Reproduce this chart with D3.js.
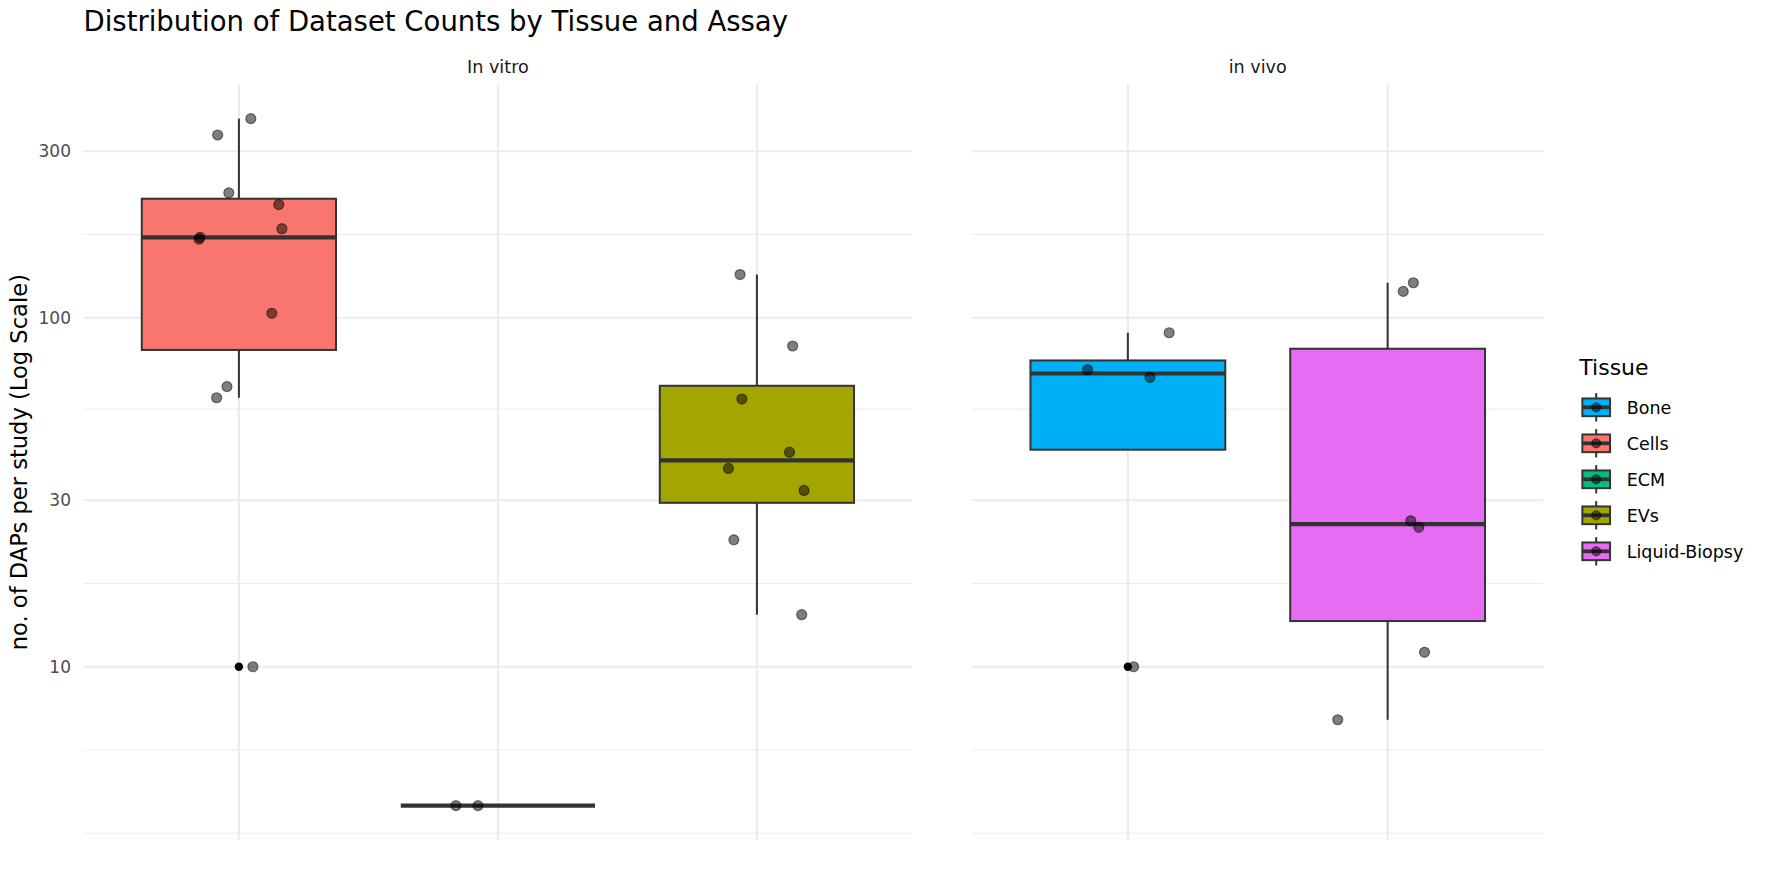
<!DOCTYPE html>
<html>
<head>
<meta charset="utf-8">
<script src="https://cdn.jsdelivr.net/npm/d3@7"></script>
<style>
  body { margin: 0; background: #fff; }
  svg { display: block; }
  text { font-family: "DejaVu Sans", sans-serif; }
</style>
</head>
<body>
<svg id="chart" width="1771" height="885"></svg>
<script>
// ---------------- data ----------------
const tissues = ["Bone", "Cells", "ECM", "EVs", "Liquid-Biopsy"];
const assays = ["In vitro", "in vivo"];
const assayTissues = [["Cells", "ECM", "EVs"], ["Bone", "Liquid-Biopsy"]];

// DAPs per study, per tissue
const boneCounts  = [90.6, 71, 67.5, 10];
const cellsCounts = [372, 334, 228, 211, 180, 170, 168, 103, 63.5, 59, 10];
const ecmCounts   = [4, 4];
const evsCounts   = [133, 83, 58.5, 41.2, 37, 32, 23.1, 14.1];
const lbCounts    = [126, 119, 26.2, 25.1, 11.0, 7.05];

// horizontal jitter of each point (fraction of category step)
const boneJitter  = [0.159, -0.155, 0.085, 0.022];
const cellsJitter = [0.046, -0.082, -0.039, 0.154, 0.166, -0.150, -0.154, 0.127, -0.046, -0.086, 0.054];
const ecmJitter   = [-0.162, -0.077];
const evsJitter   = [-0.065, 0.138, -0.058, 0.126, -0.110, 0.182, -0.089, 0.173];
const lbJitter    = [0.099, 0.060, 0.089, 0.120, 0.142, -0.192];

const yTicks = [10, 30, 100, 300];
const yTickLabels = ["10", "30", "100", "300"];

const tissueColors = ["#00B0F6", "#F8766D", "#00BF7D", "#A3A500", "#E76BF3"];

// ---------------- assemble ----------------
const countsBy = { "Bone": boneCounts, "Cells": cellsCounts, "ECM": ecmCounts, "EVs": evsCounts, "Liquid-Biopsy": lbCounts };
const jitterBy = { "Bone": boneJitter, "Cells": cellsJitter, "ECM": ecmJitter, "EVs": evsJitter, "Liquid-Biopsy": lbJitter };
const color = d3.scaleOrdinal().domain(tissues).range(tissueColors);

// ---------------- layout ----------------
const W = 1771, H = 885;
const panelTop = 84.3, panelBottom = 840;
const panelX = [[83.5, 912.3], [972, 1543.5]];
const gridCol = "#EBEBEB";
const boxLine = "#333333";

const svg = d3.select("#chart");
svg.append("rect").attr("width", W).attr("height", H).attr("fill", "#fff");

// y scale (log10, 5% expansion in log space like ggplot)
const allVals = tissues.flatMap(t => countsBy[t]);
const lext = d3.extent(allVals, v => Math.log10(v));
const lpad = (lext[1] - lext[0]) * 0.05;
const y = d3.scaleLog()
  .domain([Math.pow(10, lext[0] - lpad), Math.pow(10, lext[1] + lpad)])
  .range([panelBottom, panelTop]);

// minor breaks (ggplot regular_minor_breaks in transformed space)
const L = yTicks.map(Math.log10);
const bd0 = L[1] - L[0], bd1 = L[L.length - 1] - L[L.length - 2];
const Lext = [L[0] - bd0, ...L, L[L.length - 1] + bd1];
let minorLog = [];
for (let i = 0; i < Lext.length - 1; i++) {
  minorLog.push(Lext[i]);
  minorLog.push((Lext[i] + Lext[i + 1]) / 2);
}
minorLog.push(Lext[Lext.length - 1]);
const ld = y.domain().map(Math.log10);
minorLog = minorLog.filter(v => v >= ld[0] && v <= ld[1] && !L.some(m => Math.abs(m - v) < 1e-9));

// title
svg.append("text")
  .attr("x", 83.5).attr("y", 30.5)
  .attr("font-size", 27.5).attr("fill", "#000")
  .text("Distribution of Dataset Counts by Tissue and Assay");

// y axis title
svg.append("text")
  .attr("transform", `translate(26.7, ${(panelTop + panelBottom) / 2}) rotate(-90)`)
  .attr("text-anchor", "middle")
  .attr("font-size", 22.6).attr("fill", "#000")
  .text("no. of DAPs per study (Log Scale)");

// y tick labels
svg.append("g").selectAll("text").data(yTicks).join("text")
  .attr("x", 71).attr("y", d => y(d))
  .attr("dy", "0.36em")
  .attr("text-anchor", "end")
  .attr("font-size", 17).attr("fill", "#4D4D4D")
  .text((d, i) => yTickLabels[i]);

function boxStats(vals) {
  const lv = vals.map(Math.log10).sort(d3.ascending);
  const q1 = d3.quantileSorted(lv, 0.25), med = d3.quantileSorted(lv, 0.5), q3 = d3.quantileSorted(lv, 0.75);
  const iqr = q3 - q1;
  const lo = q1 - 1.5 * iqr, hi = q3 + 1.5 * iqr;
  const inside = lv.filter(v => v >= lo && v <= hi);
  return {
    q1: Math.pow(10, q1), med: Math.pow(10, med), q3: Math.pow(10, q3),
    wlo: Math.pow(10, d3.min(inside)), whi: Math.pow(10, d3.max(inside)),
    outliers: vals.filter(v => Math.log10(v) < lo || Math.log10(v) > hi)
  };
}

assays.forEach((assay, p) => {
  const [x0, x1] = panelX[p];
  const cats = assayTissues[p];
  const x = d3.scalePoint().domain(cats).range([x0, x1]).padding(0.6);
  const step = x.step();
  const g = svg.append("g");

  // grid
  g.selectAll("line.minor").data(minorLog).join("line")
    .attr("x1", x0).attr("x2", x1)
    .attr("y1", d => y(Math.pow(10, d))).attr("y2", d => y(Math.pow(10, d)))
    .attr("stroke", gridCol).attr("stroke-width", 1.1);
  g.selectAll("line.major").data(yTicks).join("line")
    .attr("x1", x0).attr("x2", x1)
    .attr("y1", d => y(d)).attr("y2", d => y(d))
    .attr("stroke", gridCol).attr("stroke-width", 2.1);
  g.selectAll("line.vmajor").data(cats).join("line")
    .attr("x1", d => x(d)).attr("x2", d => x(d))
    .attr("y1", panelTop).attr("y2", panelBottom)
    .attr("stroke", gridCol).attr("stroke-width", 2.1);

  // strip label
  svg.append("text")
    .attr("x", (x0 + x1) / 2).attr("y", 72.5)
    .attr("text-anchor", "middle")
    .attr("font-size", 17.6).attr("fill", "#1A1A1A")
    .text(assay);

  const bw = 0.75 * step;
  // boxplots
  cats.forEach(cat => {
    const s = boxStats(countsBy[cat]);
    const cx = x(cat);
    if (s.whi > s.q3) {
      g.append("line").attr("x1", cx).attr("x2", cx)
        .attr("y1", y(s.q3)).attr("y2", y(s.whi))
        .attr("stroke", boxLine).attr("stroke-width", 2);
    }
    if (s.wlo < s.q1) {
      g.append("line").attr("x1", cx).attr("x2", cx)
        .attr("y1", y(s.q1)).attr("y2", y(s.wlo))
        .attr("stroke", boxLine).attr("stroke-width", 2);
    }
    g.append("rect")
      .attr("x", cx - bw / 2).attr("width", bw)
      .attr("y", y(s.q3)).attr("height", Math.max(0, y(s.q1) - y(s.q3)))
      .attr("fill", color(cat)).attr("stroke", boxLine).attr("stroke-width", 2);
    g.append("line")
      .attr("x1", cx - bw / 2).attr("x2", cx + bw / 2)
      .attr("y1", y(s.med)).attr("y2", y(s.med))
      .attr("stroke", boxLine).attr("stroke-width", 4.2);
    g.selectAll(null).data(s.outliers).join("circle")
      .attr("cx", cx).attr("cy", d => y(d)).attr("r", 4.2)
      .attr("fill", "#000");
  });

  // jittered points
  cats.forEach(cat => {
    const vals = countsBy[cat], jit = jitterBy[cat];
    g.selectAll(null).data(vals.map((v, i) => ({ v, j: jit[i] }))).join("circle")
      .attr("cx", d => x(cat) + d.j * step)
      .attr("cy", d => y(d.v))
      .attr("r", 5)
      .attr("fill", "rgba(0,0,0,0.5)")
      .attr("stroke", "rgba(0,0,0,0.5)")
      .attr("stroke-width", 1.2);
  });
});

// legend
const lg = svg.append("g");
lg.append("text").attr("x", 1579.3).attr("y", 375)
  .attr("font-size", 22).attr("fill", "#000").text("Tissue");
const keyCx = 1596.2, keyY0 = 407.3, keyStep = 36;
tissues.forEach((t, i) => {
  const cy = keyY0 + i * keyStep;
  const k = lg.append("g");
  k.append("line").attr("x1", keyCx).attr("x2", keyCx).attr("y1", cy - 14.2).attr("y2", cy + 14.2)
    .attr("stroke", boxLine).attr("stroke-width", 2);
  k.append("rect").attr("x", keyCx - 13.85).attr("y", cy - 8.85).attr("width", 27.7).attr("height", 17.7)
    .attr("fill", color(t)).attr("stroke", boxLine).attr("stroke-width", 2);
  k.append("line").attr("x1", keyCx - 13.85).attr("x2", keyCx + 13.85).attr("y1", cy).attr("y2", cy)
    .attr("stroke", boxLine).attr("stroke-width", 3.8);
  k.append("circle").attr("cx", keyCx).attr("cy", cy).attr("r", 4.6)
    .attr("fill", "rgba(0,0,0,0.5)").attr("stroke", "rgba(0,0,0,0.5)").attr("stroke-width", 1);
  k.append("text").attr("x", 1626.7).attr("y", cy).attr("dy", "0.36em")
    .attr("font-size", 17.5).attr("fill", "#000").text(t);
});
</script>
</body>
</html>
